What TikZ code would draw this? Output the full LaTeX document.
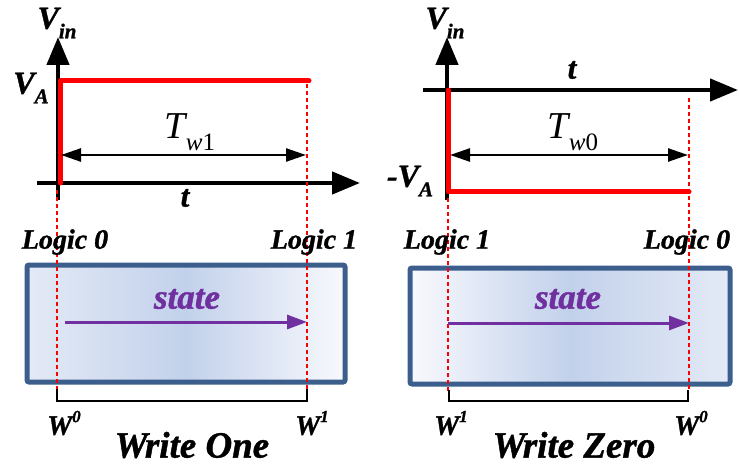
\documentclass[tikz,border=0pt]{standalone}
\usepackage{fontspec}
\setmainfont{Liberation Serif}[BoldItalicFeatures={FakeBold=1.2}]
\usetikzlibrary{arrows.meta}
\definecolor{boxedge}{HTML}{3C5E8D}
\definecolor{boxmid}{HTML}{C2D1EB}
\definecolor{boxlight}{HTML}{E4EAF6}
\definecolor{boxwhite}{HTML}{F8F9FD}
\definecolor{statepurple}{HTML}{7030A0}
\tikzset{
  axis/.style={line width=4.5pt, -{Triangle[length=28pt,width=22pt]}},
  pulse/.style={red, line width=5pt, line cap=round, line join=round},
  guide/.style={red, line width=2.2pt, dash pattern=on 4pt off 3pt},
  span/.style={line width=2.5pt, {Triangle[length=20pt,width=13pt]}-{Triangle[length=20pt,width=13pt]}},
  statearrow/.style={statepurple, line width=3pt, -{Triangle[length=20pt,width=14pt]}},
  bracket/.style={line width=2.8pt},
  cell/.style={draw=boxedge, line width=5pt, rounded corners=2pt},
  lbl/.style={font=\fontsize{28pt}{30pt}\selectfont\bfseries\itshape, inner sep=0pt},
  big/.style={font=\fontsize{37pt}{39pt}\selectfont\bfseries\itshape, inner sep=0pt},
  tlbl/.style={font=\fontsize{31pt}{33pt}\selectfont\bfseries\itshape, inner sep=0pt},
  volt/.style={font=\fontsize{32pt}{34pt}\selectfont\bfseries\itshape, inner sep=0pt},
  tw/.style={font=\fontsize{38pt}{40pt}\selectfont\itshape, inner sep=0pt},
  stlbl/.style={font=\fontsize{35pt}{37pt}\selectfont\bfseries\itshape, text=statepurple, inner sep=0pt}
}
\begin{document}
\begin{tikzpicture}[x=1pt,y=-1pt]
\useasboundingbox (0,0) rectangle (739,465);
% ---------------- left panel ----------------
\draw[cell, left color=boxlight, right color=boxwhite, middle color=boxmid] (27,265) rectangle (345,382);
\coordinate (la0) at (58,200); \coordinate (la1) at (58,37);
\coordinate (lh0) at (37,183); \coordinate (lh1) at (360,183);
\draw[axis] (la0) -- (la1);
\draw[axis] (lh0) -- (lh1);
\coordinate (lp0) at (60,183); \coordinate (lp1) at (60,81); \coordinate (lp2) at (309,81);
\draw[pulse] (lp0) -- (lp1) -- (lp2);
\coordinate (lg0) at (57,190); \coordinate (lg1) at (57,392);
\coordinate (lg2) at (307,84); \coordinate (lg3) at (307,392);
\draw[guide] (lg0) -- (lg1);
\draw[guide] (lg2) -- (lg3);
\coordinate (ls0) at (61,155); \coordinate (ls1) at (306,155);
\draw[span] (ls0) -- (ls1);
\coordinate (lst0) at (65,322); \coordinate (lst1) at (307,322);
\draw[statearrow] (lst0) -- (lst1);
\coordinate (lb0) at (57,389); \coordinate (lb1) at (57,401); \coordinate (lb2) at (307,401); \coordinate (lb3) at (307,389);
\draw[bracket] (lb0) -- (lb1) -- (lb2) -- (lb3);
\node[volt] (lvin) at (57,23) {V\raisebox{-0.3em}{\fontsize{21pt}{21pt}\selectfont in}};
\node[volt] (lva) at (31,88) {V\raisebox{-0.3em}{\fontsize{21pt}{21pt}\selectfont A}};
\node[tlbl] (lt) at (185,198) {t};
\node[tw] (ltw) at (190,132) {T\raisebox{-0.3em}{\fontsize{25pt}{25pt}\selectfont w\upshape 1}};
\node[lbl] (llog0) at (65,242) {Logic 0};
\node[lbl] (llog1) at (314,242) {Logic 1};
\node[stlbl] (lstate) at (187,299) {state};
\node[lbl] (lw0) at (64,423) {W\raisebox{0.45em}{\fontsize{17pt}{17pt}\selectfont 0}};
\node[lbl] (lw1) at (312,423) {W\raisebox{0.45em}{\fontsize{17pt}{17pt}\selectfont 1}};
\node[big] (lwrite) at (192,445) {Write One};
% ---------------- right panel ----------------
\draw[cell, left color=boxwhite, right color=boxlight, middle color=boxmid] (410,268) rectangle (730,384);
\coordinate (ra0) at (447,200); \coordinate (ra1) at (447,37);
\coordinate (rh0) at (423,90); \coordinate (rh1) at (738,90);
\draw[axis] (ra0) -- (ra1);
\draw[axis] (rh0) -- (rh1);
\coordinate (rp0) at (448,90); \coordinate (rp1) at (448,192); \coordinate (rp2) at (689,192);
\draw[pulse] (rp0) -- (rp1) -- (rp2);
\coordinate (rg0) at (448,198); \coordinate (rg1) at (448,392);
\coordinate (rg2) at (689,98); \coordinate (rg3) at (689,392);
\draw[guide] (rg0) -- (rg1);
\draw[guide] (rg2) -- (rg3);
\coordinate (rs0) at (450,155); \coordinate (rs1) at (688,155);
\draw[span] (rs0) -- (rs1);
\coordinate (rst0) at (448,323); \coordinate (rst1) at (689,323);
\draw[statearrow] (rst0) -- (rst1);
\coordinate (rb0) at (449,390); \coordinate (rb1) at (449,401); \coordinate (rb2) at (688,401); \coordinate (rb3) at (688,390);
\draw[bracket] (rb0) -- (rb1) -- (rb2) -- (rb3);
\node[volt] (rvin) at (445,23) {V\raisebox{-0.3em}{\fontsize{21pt}{21pt}\selectfont in}};
\node[volt] (rva) at (410,181) {-V\raisebox{-0.3em}{\fontsize{21pt}{21pt}\selectfont A}};
\node[tlbl] (rt) at (572,70) {t};
\node[tw] (rtw) at (573,132) {T\raisebox{-0.3em}{\fontsize{25pt}{25pt}\selectfont w\upshape 0}};
\node[lbl] (rlog1) at (447,242) {Logic 1};
\node[lbl] (rlog0) at (687,242) {Logic 0};
\node[stlbl] (rstate) at (568,299) {state};
\node[lbl] (rw1) at (451,423) {W\raisebox{0.45em}{\fontsize{17pt}{17pt}\selectfont 1}};
\node[lbl] (rw0) at (691,423) {W\raisebox{0.45em}{\fontsize{17pt}{17pt}\selectfont 0}};
\node[big] (rwrite) at (574,445) {Write Zero};
\end{tikzpicture}
\end{document}
